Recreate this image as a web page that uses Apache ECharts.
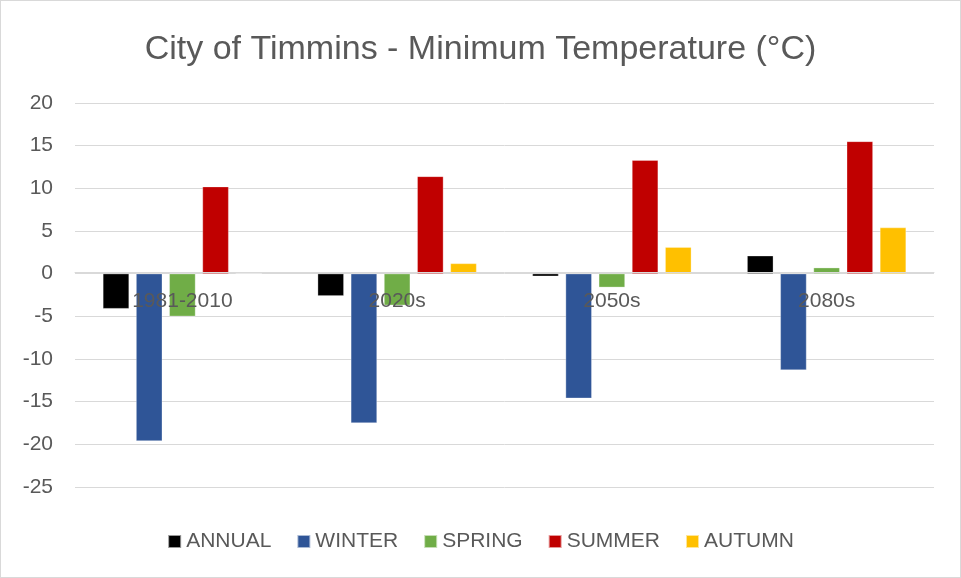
<!DOCTYPE html>
<html>
<head>
<meta charset="utf-8">
<script src="https://cdn.jsdelivr.net/npm/echarts@6/dist/echarts.min.js"></script>
<style>
  html, body { margin: 0; padding: 0; background: #fff; }
  #main { width: 961px; height: 578px; box-sizing: border-box; border: 1px solid #d9d9d9; }
</style>
</head>
<body>
<div id="main"></div>
<script>
// periods on the x axis
var periods = ['1981-2010', '2020s', '2050s', '2080s'];

// minimum temperature (°C) per season
var annual = [-4.1, -2.6, -0.3, 2.1];
var winter = [-19.6, -17.5, -14.6, -11.3];
var spring = [-5.0, -3.7, -1.6, 0.7];
var summer = [10.2, 11.4, 13.3, 15.5];
var autumn = [0, 1.2, 3.1, 5.4];

var yTicks = [-25, -20, -15, -10, -5, 0, 5, 10, 15, 20];

var seriesNames = ['ANNUAL', 'WINTER', 'SPRING', 'SUMMER', 'AUTUMN'];
var seriesData = [annual, winter, spring, summer, autumn];
var seriesColors = ['#000000', '#2F5597', '#70AD47', '#C00000', '#FFC000'];

var fontName = 'Liberation Sans';
var txtColor = '#595959';

var gridTop = 102, gridBottom = 90;
var yMin = yTicks[0], yMax = yTicks[yTicks.length - 1];
// move the category axis up to the zero line (labels too)
var plotH = 578 - gridTop - gridBottom;
var zeroOffset = -plotH * (0 - yMin) / (yMax - yMin);

var chart = echarts.init(document.getElementById('main'));

var series = seriesNames.map(function (name, i) {
    return {
        name: name,
        type: 'bar',
        data: seriesData[i],
        barGap: '27%',
        barCategoryGap: '26%',
        itemStyle: {
            color: seriesColors[i],
            borderColor: 'rgba(255,255,255,0.6)',
            borderWidth: 0.5
        }
    };
});

chart.setOption({
    animation: false,
    title: {
        text: 'City of Timmins - Minimum Temperature (°C)',
        left: 'center',
        top: 27,
        textStyle: {
            fontFamily: fontName,
            fontSize: 34,
            fontWeight: 'normal',
            color: txtColor
        }
    },
    color: seriesColors,
    legend: {
        top: 525,
        left: 'center',
        itemWidth: 13,
        itemHeight: 13,
        itemGap: 25,
        icon: 'rect',
        textStyle: {
            fontFamily: fontName,
            fontSize: 21,
            color: txtColor
        },
        data: seriesNames
    },
    grid: {
        left: 74,
        right: 26,
        top: gridTop,
        bottom: gridBottom,
        containLabel: false
    },
    xAxis: {
        type: 'category',
        data: periods,
        zlevel: 1,
        z: 10,
        offset: zeroOffset,
        axisLine: { onZero: false, lineStyle: { color: '#d9d9d9', width: 1 } },
        axisTick: { show: false },
        axisLabel: {
            margin: 18,
            fontFamily: fontName,
            fontSize: 21,
            color: txtColor
        }
    },
    yAxis: {
        type: 'value',
        min: yMin,
        max: yMax,
        interval: 5,
        axisLine: { show: false },
        axisTick: { show: false },
        splitLine: { lineStyle: { color: '#d9d9d9', width: 1 } },
        axisLabel: {
            margin: 22,
            fontFamily: fontName,
            fontSize: 21,
            color: txtColor
        }
    },
    series: series
});
</script>
</body>
</html>
